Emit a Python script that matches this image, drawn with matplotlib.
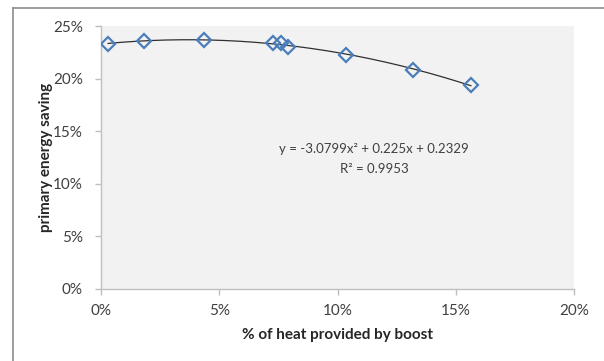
import matplotlib
matplotlib.use("Agg")
import matplotlib.pyplot as plt
import numpy as np
from matplotlib.ticker import PercentFormatter
from matplotlib.lines import Line2D

plt.rcParams['font.family'] = ['Lato', 'DejaVu Sans']

# data (fractions)
boost_share = [0.003, 0.018, 0.0435, 0.0727, 0.076, 0.079, 0.1036, 0.132, 0.1564]
energy_saving = [0.2330, 0.2360, 0.2370, 0.2335, 0.2340, 0.2305, 0.2222, 0.2085, 0.1940]
x_ticks = [0.0, 0.05, 0.10, 0.15, 0.20]
y_ticks = [0.0, 0.05, 0.10, 0.15, 0.20, 0.25]
eq_text = "y = -3.0799x² + 0.225x + 0.2329"
r2_text = "R² = 0.9953"

W, H = 604, 361
fig = plt.figure(figsize=(W/100, H/100), dpi=100)
fig.patch.set_facecolor('white')

# outer chart frame (top and left edges visible)
fig.add_artist(Line2D([13/W, 1.0], [1-8/H, 1-8/H], transform=fig.transFigure, color='#8c8c8c', lw=1.2))
fig.add_artist(Line2D([13/W, 13/W], [0.0, 1-8/H], transform=fig.transFigure, color='#8c8c8c', lw=1.2))

ax = fig.add_axes([101/W, 1-289/H, (574-101)/W, (289-26)/H])
ax.set_facecolor('#f2f2f2')

coef = np.polyfit(boost_share, energy_saving, 2)
xs = np.linspace(min(boost_share), max(boost_share), 200)
ax.plot(xs, np.polyval(coef, xs), color='#303030', lw=0.9, zorder=2)
ax.plot(boost_share, energy_saving, linestyle='none', marker='D', markersize=7,
        markerfacecolor='none', markeredgecolor='#4a7ebb', markeredgewidth=1.6, zorder=3)

ax.set_xlim(0, 0.20)
ax.set_ylim(0, 0.25)
ax.set_xticks(x_ticks)
ax.set_yticks(y_ticks)
ax.xaxis.set_major_formatter(PercentFormatter(1.0, decimals=0))
ax.yaxis.set_major_formatter(PercentFormatter(1.0, decimals=0))

for s in ['top', 'right']:
    ax.spines[s].set_visible(False)
for s in ['left', 'bottom']:
    ax.spines[s].set_color('#bfbfbf')
    ax.spines[s].set_linewidth(1.0)
ax.tick_params(axis='both', colors='#bfbfbf', labelcolor='#404040', labelsize=11,
               length=4, width=1.0, direction='out')
ax.tick_params(axis='x', pad=7)
ax.tick_params(axis='y', pad=9)

ax.set_xlabel('% of heat provided by boost', fontsize=11, fontweight='bold', color='#262626', labelpad=7)
ax.set_ylabel('primary energy saving', fontsize=11, fontweight='bold', color='#262626', labelpad=0)

ax.text(0.1155, 0.1335, eq_text, fontsize=9.5, color='#404040', ha='center', va='center')
ax.text(0.1155, 0.1145, r2_text, fontsize=9.5, color='#404040', ha='center', va='center')

fig.savefig('out.png', dpi=100)
